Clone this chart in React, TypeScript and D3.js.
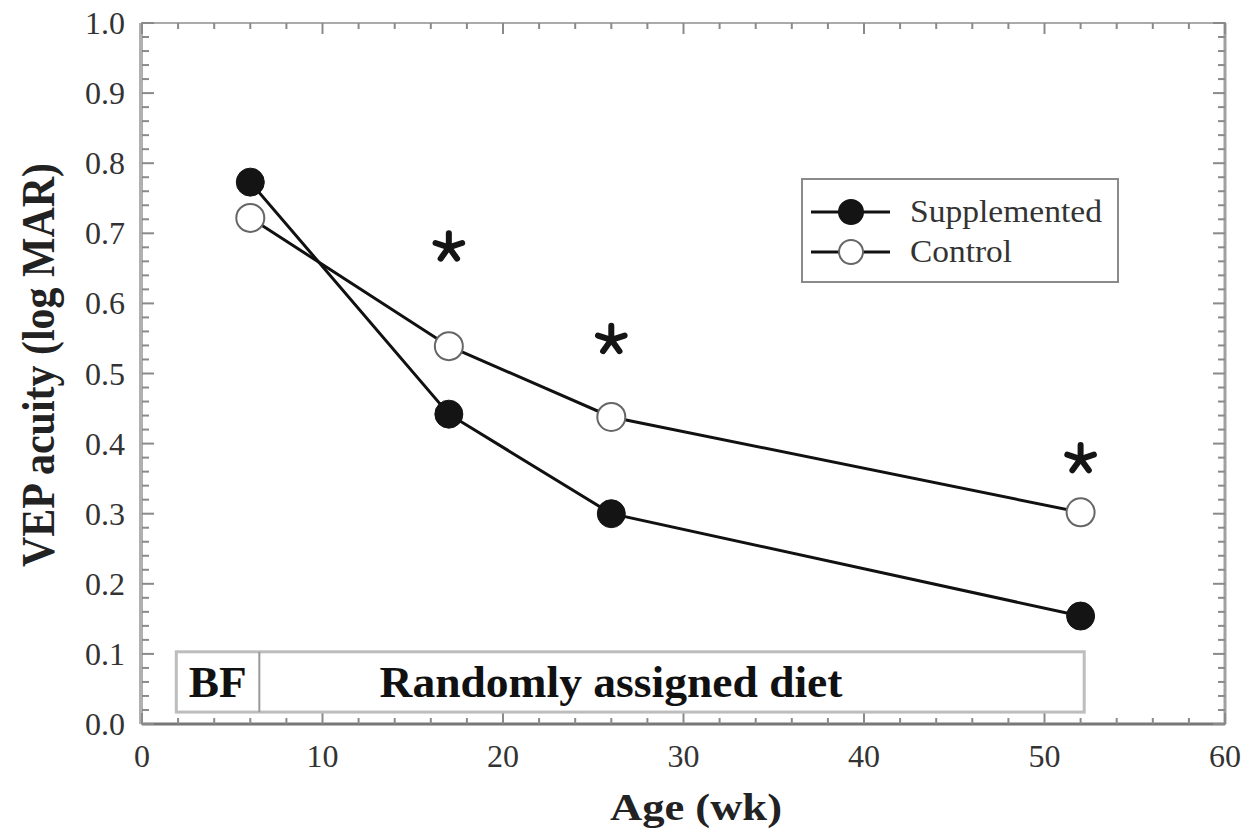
import React from "react";
import * as d3 from "d3";

// Mean VEP acuity by age, two diet groups
const ages = [6, 17, 26, 52];
const supplemented = [0.773, 0.442, 0.3, 0.154];
const control = [0.722, 0.539, 0.438, 0.302];

// Significance markers (age, height)
const starAges = [17, 26, 52];
const starLevels = [0.68, 0.548, 0.378];

const xTicks = [0, 10, 20, 30, 40, 50, 60];
const yTicks = [0, 0.1, 0.2, 0.3, 0.4, 0.5, 0.6, 0.7, 0.8, 0.9, 1.0];

// Feeding period band: breast-fed then randomised diet
const bfStart = 1.9;
const bfEnd = 6.5;
const dietEnd = 52.2;
const bandTop = 0.103;
const bandBottom = 0.017;

const seriesNames = ["Supplemented", "Control"];

const W = 1243;
const H = 832;
const FONT = "'Liberation Serif', 'Times New Roman', serif";

export default function App() {
  const x = d3.scaleLinear().domain([0, 60]).range([142, 1225]);
  const y = d3.scaleLinear().domain([0, 1]).range([724, 23]);

  const line = d3
    .line<number>()
    .x((_, i) => x(ages[i]))
    .y((d) => y(d));

  const xMinor = d3.range(0, 60.001, 2);
  const yMinor = d3.range(0, 1.0001, 0.02);

  const axisColor = "#8a8a8a";
  const r = 14;

  const starArms = [0, 1, 2, 3, 4].map((k) => (-90 + k * 72) * (Math.PI / 180));

  return (
    <svg
      width={W}
      height={H}
      style={{ position: "absolute", left: 0, top: 0, background: "#fff" }}
      fontFamily={FONT}
    >
      <rect x={0} y={0} width={W} height={H} fill="#fff" />

      {/* frame */}
      <rect
        x={x(0)}
        y={y(1)}
        width={x(60) - x(0)}
        height={y(0) - y(1)}
        fill="none"
        stroke="#aaa"
        strokeWidth={2}
      />
      <line x1={x(0) - 1} x2={x(0) - 1} y1={y(1)} y2={y(0)} stroke="#b0b0b0" strokeWidth={4} />
      <line x1={x(0)} x2={x(60)} y1={y(0)} y2={y(0)} stroke="#777" strokeWidth={3} />
      <line x1={x(60)} x2={x(60)} y1={y(1)} y2={y(0)} stroke="#a0a0a0" strokeWidth={3} />

      {/* x ticks, bottom and top */}
      {xMinor.map((v) => {
        const major = Math.abs(v % 10) < 1e-6;
        const len = major ? 11 : 6;
        return (
          <g key={"xt" + v}>
            <line x1={x(v)} x2={x(v)} y1={y(0)} y2={y(0) - len} stroke={axisColor} strokeWidth={2} />
            <line x1={x(v)} x2={x(v)} y1={y(1)} y2={y(1) + len} stroke={axisColor} strokeWidth={2} />
          </g>
        );
      })}
      {/* y ticks, left and right */}
      {yMinor.map((v, i) => {
        const major = i % 5 === 0;
        const len = major ? 12 : 7;
        return (
          <g key={"yt" + i}>
            <line x1={x(0)} x2={x(0) + len} y1={y(v)} y2={y(v)} stroke={axisColor} strokeWidth={2} />
            <line x1={x(60)} x2={x(60) - len} y1={y(v)} y2={y(v)} stroke={axisColor} strokeWidth={2} />
          </g>
        );
      })}

      {/* tick labels */}
      {xTicks.map((v) => (
        <text key={"xl" + v} x={x(v)} y={767} textAnchor="middle" fontSize={32} fill="#333">
          {v}
        </text>
      ))}
      {yTicks.map((v) => (
        <text key={"yl" + v} x={125} y={y(v) + 11} textAnchor="end" fontSize={32} fill="#333">
          {v.toFixed(1)}
        </text>
      ))}

      {/* axis titles */}
      <text
        x={696}
        y={820}
        textAnchor="middle"
        fontSize={38}
        fontWeight="bold"
        fill="#222"
        textLength={172}
        lengthAdjust="spacingAndGlyphs"
      >
        Age (wk)
      </text>
      <text
        transform={`translate(54, 365) rotate(-90)`}
        textAnchor="middle"
        fontSize={46}
        fontWeight="bold"
        fill="#222"
        textLength={404}
        lengthAdjust="spacingAndGlyphs"
      >
        VEP acuity (log MAR)
      </text>

      {/* diet period band */}
      <rect
        x={x(bfStart)}
        y={y(bandTop)}
        width={x(dietEnd) - x(bfStart)}
        height={y(bandBottom) - y(bandTop)}
        fill="none"
        stroke="#bdbdbd"
        strokeWidth={3}
      />
      <line
        x1={x(bfEnd)}
        x2={x(bfEnd)}
        y1={y(bandTop)}
        y2={y(bandBottom)}
        stroke="#999"
        strokeWidth={2}
      />
      <text
        x={(x(bfStart) + x(bfEnd)) / 2}
        y={697}
        textAnchor="middle"
        fontSize={44}
        fontWeight="bold"
        fill="#111"
        textLength={58}
        lengthAdjust="spacingAndGlyphs"
      >
        BF
      </text>
      <text
        x={611}
        y={697}
        textAnchor="middle"
        fontSize={44}
        fontWeight="bold"
        fill="#111"
        textLength={463}
        lengthAdjust="spacingAndGlyphs"
      >
        Randomly assigned diet
      </text>

      {/* series lines */}
      <path d={line(control) || ""} fill="none" stroke="#111" strokeWidth={3} />
      <path d={line(supplemented) || ""} fill="none" stroke="#111" strokeWidth={3} />

      {/* markers */}
      {control.map((v, i) => (
        <circle key={"c" + i} cx={x(ages[i])} cy={y(v)} r={r} fill="#fff" stroke="#666" strokeWidth={2} />
      ))}
      {supplemented.map((v, i) => (
        <circle key={"s" + i} cx={x(ages[i])} cy={y(v)} r={r} fill="#141414" stroke="#141414" strokeWidth={1} />
      ))}

      {/* significance asterisks */}
      {starAges.map((a, i) => (
        <g key={"st" + i} transform={`translate(${x(a)},${y(starLevels[i])})`}>
          {starArms.map((ang, k) => (
            <line
              key={k}
              x1={0}
              y1={0}
              x2={Math.cos(ang) * 14}
              y2={Math.sin(ang) * 14}
              stroke="#151515"
              strokeWidth={6}
              strokeLinecap="round"
            />
          ))}
        </g>
      ))}

      {/* legend */}
      <rect x={802} y={179} width={316} height={103} fill="#fff" stroke="#8a8a8a" strokeWidth={2} />
      {seriesNames.map((name, i) => {
        const cy = 212 + i * 40;
        return (
          <g key={name}>
            <line x1={811} x2={890} y1={cy} y2={cy} stroke="#111" strokeWidth={3} />
            <circle
              cx={851}
              cy={cy}
              r={12}
              fill={i === 0 ? "#141414" : "#fff"}
              stroke={i === 0 ? "#141414" : "#666"}
              strokeWidth={2}
            />
            <text x={910} y={cy + 10} fontSize={32} fill="#333" textLength={i === 0 ? 192 : 102} lengthAdjust="spacingAndGlyphs">
              {name}
            </text>
          </g>
        );
      })}
    </svg>
  );
}
